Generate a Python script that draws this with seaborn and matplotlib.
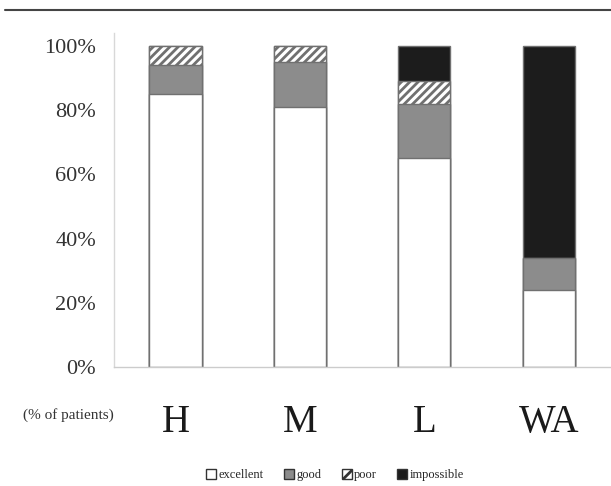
import numpy as np
import pandas as pd
import matplotlib
matplotlib.use("Agg")
import matplotlib.pyplot as plt
import seaborn as sns
from matplotlib.patches import Patch
from matplotlib.lines import Line2D

# (% of patients)
groups = ["H", "M", "L", "WA"]
excellent = [85, 81, 65, 24]
good = [9, 14, 17, 10]
poor = [6, 5, 7, 0]
impossible = [0, 0, 11, 66]
yticks = [0, 20, 40, 60, 80, 100]
ytick_labels = ["0%", "20%", "40%", "60%", "80%", "100%"]

sns.set_style("white")
plt.rcParams["font.family"] = ["Liberation Serif", "DejaVu Serif"]
plt.rcParams["hatch.linewidth"] = 2.0
plt.rcParams["hatch.color"] = "#1a1a1a"

df = pd.DataFrame({"group": groups, "excellent": excellent, "good": good,
                   "poor": poor, "impossible": impossible})
df["c_exc"] = df["excellent"]
df["c_good"] = df["c_exc"] + df["good"]
df["c_poor"] = df["c_good"] + df["poor"]
df["c_imp"] = df["c_poor"] + df["impossible"]

fig = plt.figure(figsize=(6.11, 4.86), dpi=100)
ax = fig.add_axes([0.1866, 0.2449, 0.8134, 0.6871])

edge = "#707070"
layers = [("c_imp", "#1c1c1c", None),
          ("c_poor", "white", "////"),
          ("c_good", "#8c8c8c", None),
          ("c_exc", "white", None)]
for col, color, hatch in layers:
    sns.barplot(data=df, x="group", y=col, color=color, width=0.42,
                edgecolor=edge, linewidth=1.0, hatch=hatch, ax=ax,
                saturation=1, errorbar=None)

ax.set_xlim(-0.494, 3.435)
ax.set_ylim(0, 104)
ax.set_yticks(yticks)
ax.set_yticklabels(ytick_labels, fontsize=16, color="#333333")
ax.set_xticks(range(len(groups)))
ax.set_xticklabels(groups, fontsize=28, color="#1a1a1a")
ax.set_xticks([0.5, 1.5, 2.5, 3.5], minor=True)
ax.tick_params(axis="x", which="major", length=0, pad=27)
ax.tick_params(axis="x", which="minor", length=6, color="#cccccc", direction="out")
ax.tick_params(axis="y", length=0, pad=13)
ax.set_xlabel("")
ax.set_ylabel("")

for s in ["top", "right"]:
    ax.spines[s].set_visible(False)
ax.spines["left"].set_color("#d8d8d8")
ax.spines["bottom"].set_color("#cccccc")
ax.spines["left"].set_linewidth(1.0)
ax.spines["bottom"].set_linewidth(1.0)

fig.text(0.037, 1 - 415 / 486, "(% of patients)", fontsize=11, color="#333333",
         va="center", ha="left")

# rule across the top
fig.add_artist(Line2D([0.008, 1.0], [0.979, 0.979], color="#444444", linewidth=1.5))

handles = [Patch(facecolor="white", edgecolor="#333333", label="excellent"),
           Patch(facecolor="#8c8c8c", edgecolor="#333333", label="good"),
           Patch(facecolor="white", edgecolor="#333333", hatch="///", label="poor"),
           Patch(facecolor="#1c1c1c", edgecolor="#333333", label="impossible")]
fig.legend(handles=handles, loc="center", bbox_to_anchor=(335 / 611, 1 - 475 / 486), ncol=4,
           frameon=False, fontsize=9, handlelength=0.8, handleheight=0.8,
           handletextpad=0.2, columnspacing=1.6)

fig.savefig("out.png", dpi=100)
